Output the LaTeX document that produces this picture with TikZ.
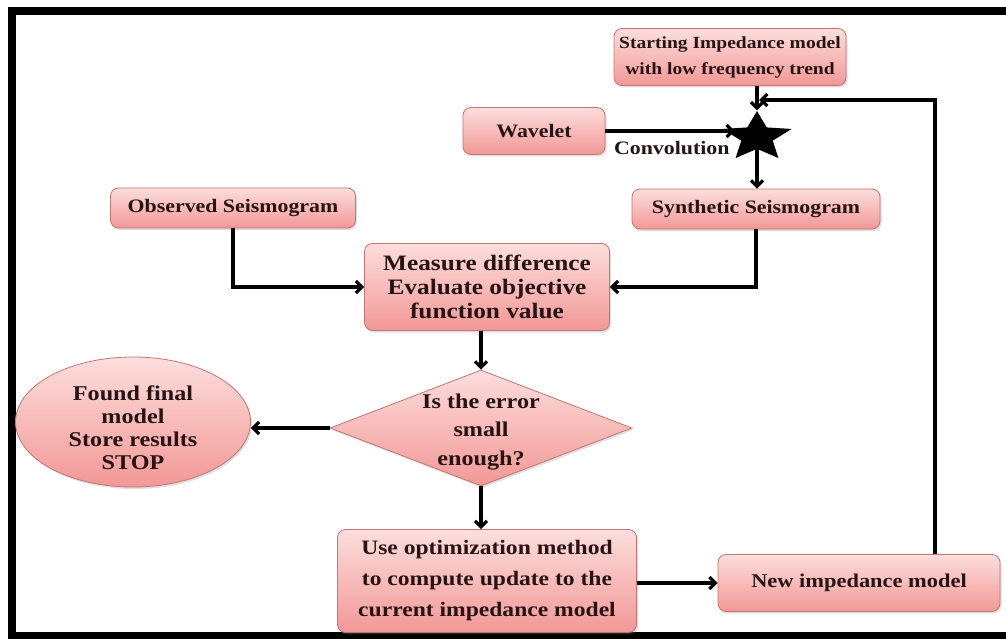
\documentclass[tikz,border=0pt]{standalone}
\usepackage{fontspec}
\setmainfont{Liberation Serif}[FakeStretch=1.15]
\usetikzlibrary{arrows.meta,shapes.geometric,shadows,calc}
\definecolor{boxtop}{RGB}{252,222,220}
\definecolor{boxbot}{RGB}{242,152,150}
\definecolor{boxline}{RGB}{196,116,114}
\definecolor{ink}{RGB}{38,20,20}
\tikzset{
  pinkfill/.style={top color=boxtop, bottom color=boxbot, draw=boxline, line width=0.8pt,
    drop shadow={opacity=0.25, shadow xshift=1.5pt, shadow yshift=-2pt}},
  stepbox/.style={pinkfill, rounded corners=8pt, inner sep=0pt, align=center},
  txt/.style 2 args={font=\bfseries\fontsize{#1}{#2}\selectfont, text=ink},
  flow/.style={draw=black, line width=3.2pt, -{Straight Barb[length=6pt,width=12pt]}},
  frameline/.style={line width=8pt, draw=black}
}
\begin{document}
\begin{tikzpicture}[x=1pt,y=-1pt]
\useasboundingbox (0,0) rectangle (1006,639);
\fill[white] (0,0) rectangle (1006,639);
% outer frame
\draw[frameline] (11.5,7) -- (11.5,639);
\draw[frameline] (8,11) -- (1006,11);
\draw[frameline] (8,635.5) -- (1006,635.5);

% boxes
\node[stepbox, txt={17}{26}, minimum width=232, minimum height=57] (start) at (730,57) {Starting Impedance model\\with low frequency trend};
\node[stepbox, txt={19}{24}, minimum width=142, minimum height=47] (wave) at (534,131) {Wavelet};
\node[star, star points=5, star point ratio=2.2, fill=black, inner sep=0pt, minimum size=52, xscale=1.4, transform shape] (conv) at (757,137) {};
\node[txt={19}{24}, anchor=north east] (convlab) at (733,138) {Convolution};
\node[stepbox, txt={19}{24}, minimum width=248, minimum height=40] (synth) at (756,209) {Synthetic Seismogram};
\node[stepbox, txt={19}{24}, minimum width=245, minimum height=40] (obs) at (233,208) {Observed Seismogram};
\node[stepbox, txt={22}{24}, minimum width=245, minimum height=87] (meas) at (487,287) {Measure difference\\Evaluate objective\\function value};
\node[diamond, pinkfill, inner sep=0pt, minimum width=302, minimum height=116] (err) at (481,428) {};
\node[txt={21}{28.5}, align=center] (errtext) at (481,432) {Is the error\\small\\enough?};
\node[ellipse, pinkfill, inner sep=0pt, minimum width=235, minimum height=130] (stop) at (133,422) {};
\node[txt={21}{23}, align=center] (stoptext) at (133,428) {Found final\\model\\Store results\\STOP};
\node[stepbox, txt={20.5}{31}, minimum width=299, minimum height=103] (opt) at (487,581) {Use optimization method\\to compute update to the\\current impedance model};
\node[stepbox, txt={19.5}{24}, minimum width=282, minimum height=57] (new) at (859,583) {New impedance model};

% connectors
\coordinate (join) at (conv.north |- 0,100);
\draw[flow] (start.south -| conv.north) -- (conv.north);
\draw[flow] (wave.east) -- (wave.east -| conv.west);
\draw[flow] (conv.south) -- (synth.north -| conv.south);
\draw[flow] (obs.south) |- (meas.west);
\draw[flow] (synth.south) |- (meas.east);
\draw[flow] (meas.south -| err.north) -- (err.north);
\draw[flow] (err.west) -- (err.west -| stop.east);
\draw[flow] (err.south) -- (opt.north -| err.south);
\draw[flow] (opt.east |- new.west) -- (new.west);
\draw[flow, shorten >=2pt] (new.north -| 935,0) |- (join);
\end{tikzpicture}
\end{document}
